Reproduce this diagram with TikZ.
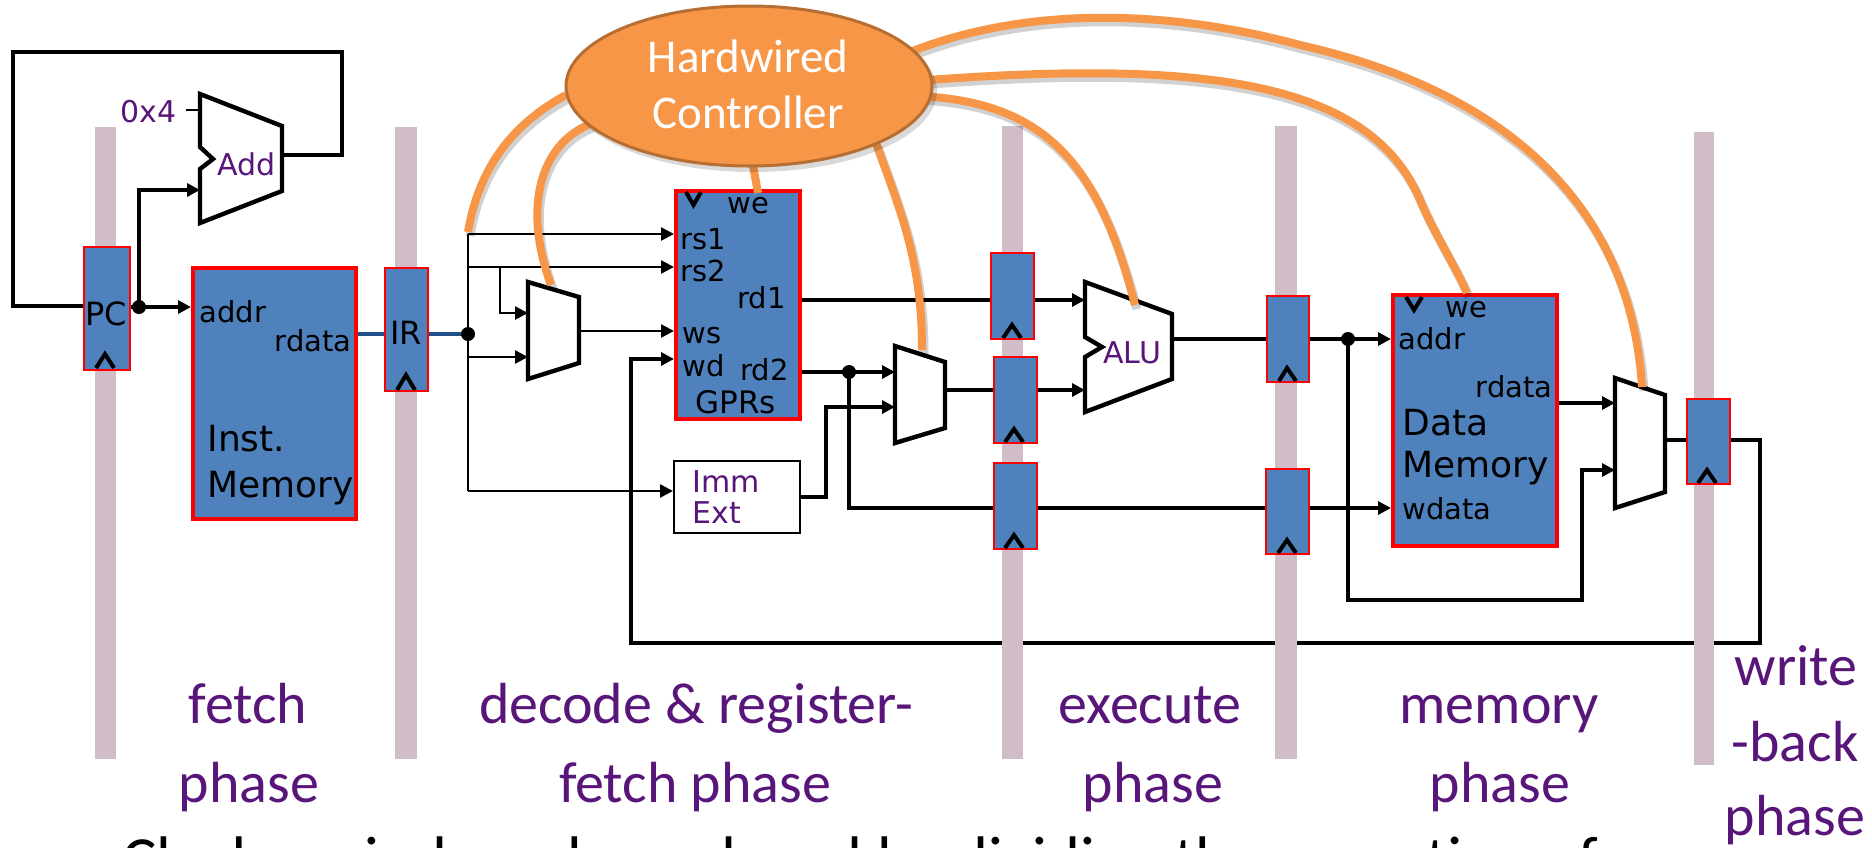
\documentclass[tikz,border=0pt]{standalone}
\usepackage{fontspec}
\setmainfont{DejaVu Sans}
\newfontfamily\calfont{Carlito}
\usetikzlibrary{arrows.meta,shapes.geometric}
\pgfdeclarelayer{back}
\pgfdeclarelayer{wires}
\pgfdeclarelayer{bars}
\pgfsetlayers{back,wires,bars,main}
\definecolor{regblue}{HTML}{4F81BD}
\definecolor{barc}{RGB}{209,189,200}
\definecolor{ctrlor}{HTML}{F79646}
\definecolor{ctrlbd}{RGB}{183,110,50}
\definecolor{purp}{RGB}{88,22,122}
\definecolor{busblue}{RGB}{36,80,138}
\begin{document}
\begin{tikzpicture}[x=0.5pt,y=-0.5pt,
  wthick/.style={line width=2pt, draw=black},
  wthin/.style={line width=1.3pt, draw=black},
  wmid/.style={line width=1.6pt, draw=black},
  busw/.style={line width=2pt, draw=busblue},
  arr/.style={-{Triangle[length=6.5pt,width=6.5pt]}},
  reg/.style={rectangle, draw=red, line width=0.9pt, fill=regblue, inner sep=0pt, anchor=north west},
  mem/.style={rectangle, draw=red, line width=1.8pt, fill=regblue, inner sep=0pt, anchor=north west},
  immbox/.style={rectangle, draw=black, line width=1.2pt, fill=white, inner sep=0pt, anchor=north west},
  muxs/.style={draw=black, line width=2.2pt, fill=white, line join=miter},
  clk/.style={draw=black, line width=2pt, line join=miter},
  dot/.style={circle, fill=black, inner sep=0pt, minimum size=7pt},
  lbl/.style={font=\fontsize{14.5}{17}\selectfont, inner sep=0pt},
  lblb/.style={font=\fontsize{18}{21}\selectfont, inner sep=0pt},
  lblr/.style={font=\fontsize{16}{19}\selectfont, inner sep=0pt},
  pur/.style={text=purp, font=\fontsize{15}{18}\selectfont, inner sep=0pt},
  phase/.style={text=purp, font=\calfont\fontsize{29}{34}\selectfont, inner sep=0pt, anchor=base},
  ctxt/.style={text=white, font=\calfont\fontsize{23.5}{28}\selectfont, inner sep=0pt, anchor=base},
  owire/.style={draw=ctrlor, line width=4pt},
  oshadow/.style={draw=black, opacity=0.18, line width=4.5pt, shift={(2,4)}},
  barf/.style={fill=barc}
]
\useasboundingbox (0,0) rectangle (1872,847);
\begin{pgfonlayer}{back}
\fill[white] (0,0) rectangle (1872,847);
\end{pgfonlayer}
\clip (0,0) rectangle (1872,847);

% ---------- ports ----------
\coordinate (pcL) at (83,306);
\coordinate (pcR) at (129,307);
\coordinate (imA) at (191,307);
\coordinate (addB) at (200,190);
\coordinate (addI1) at (200,110);
\coordinate (c0x4) at (186,110);
\coordinate (addO) at (282,155);
\coordinate (imR) at (354,334);
\coordinate (irL) at (384,334);
\coordinate (irR) at (427,334);
\coordinate (busT) at (468,234);
\coordinate (busRs2) at (468,267);
\coordinate (brA) at (500,267);
\coordinate (busM1b) at (468,357);
\coordinate (busB) at (468,491);
\coordinate (gRs1) at (674,234);
\coordinate (gRs2) at (674,267);
\coordinate (m1A) at (528,313);
\coordinate (m1B) at (528,357);
\coordinate (m1O) at (579,331);
\coordinate (gWs) at (674,331);
\coordinate (gWd) at (674,359);
\coordinate (immL) at (673,491);
\coordinate (immR) at (799,497);
\coordinate (gRd1) at (798,300);
\coordinate (gRd2) at (798,372);
\coordinate (m2A) at (895,372);
\coordinate (m2B) at (895,407);
\coordinate (m2O) at (945,390);
\coordinate (r3aL) at (990,300);
\coordinate (r3aR) at (1033,300);
\coordinate (r3bL) at (993,390);
\coordinate (r3bR) at (1036,390);
\coordinate (r3cL) at (993,508);
\coordinate (r3cR) at (1036,508);
\coordinate (aluA) at (1085,300);
\coordinate (aluB) at (1085,390);
\coordinate (aluO) at (1172,339);
\coordinate (r4aL) at (1266,339);
\coordinate (r4aR) at (1308,339);
\coordinate (r4bL) at (1265,508);
\coordinate (r4bR) at (1308,508);
\coordinate (dAddr) at (1391,339);
\coordinate (dWd) at (1391,508);
\coordinate (dRd) at (1555,403);
\coordinate (m3A) at (1615,403);
\coordinate (m3B) at (1615,470);
\coordinate (m3O) at (1665,440);
\coordinate (r5L) at (1686,440);
\coordinate (r5R) at (1729,440);

% ---------- dots ----------
\node[dot] (dotA) at (139,307) {};
\node[dot] (dotB) at (468,334) {};
\node[dot] (dotC) at (849,372) {};
\node[dot] (dotD) at (1348,339) {};

% ---------- wires ----------
\begin{pgfonlayer}{wires}
\draw[wthick] (addO) -- (342,155) -- (342,52) -- (13,52) -- (13,306) -- (pcL);
\draw[wthick,arr] (pcR) -- (imA);
\draw[wthick,arr] (dotA.center) |- (addB);
\draw[wthin] (c0x4) -- (addI1);
\draw[busw] (imR) -- (irL);
\draw[busw] (irR) -- (dotB.center);
\draw[wthin] (busT) -- (busB);
\draw[wthin,arr] (busT) -- (gRs1);
\draw[wthin,arr] (busRs2) -- (gRs2);
\draw[wthin,arr] (brA) |- (m1A);
\draw[wthin,arr] (busM1b) -- (m1B);
\draw[wthin,arr] (m1O) -- (gWs);
\draw[wthin,arr] (busB) -- (immL);
\draw[wthick,arr] (r5R) -- (1760,440) -- (1760,643) -- (631,643) -- (631,359) -- (gWd);
\draw[wthick] (gRd1) -- (r3aL);
\draw[wthick,arr] (r3aR) -- (aluA);
\draw[wthick,arr] (gRd2) -- (m2A);
\draw[wthick] (dotC.center) |- (r3cL);
\draw[wthick] (r3cR) -- (r4bL);
\draw[wthick,arr] (r4bR) -- (dWd);
\draw[wthick,arr] (immR) -- (826,497) |- (m2B);
\draw[wthick] (m2O) -- (r3bL);
\draw[wthick,arr] (r3bR) -- (aluB);
\draw[wthick] (aluO) -- (r4aL);
\draw[wthick,arr] (r4aR) -- (dAddr);
\draw[wmid,arr] (dotD.center) -- (1348,600) -- (1582,600) -- (1582,470) -- (m3B);
\draw[wthick,arr] (dRd) -- (m3A);
\draw[wthick] (m3O) -- (r5L);
\end{pgfonlayer}

% ---------- pipeline bars ----------
\begin{pgfonlayer}{bars}
\fill[barf] (95,127) rectangle (116,759);
\fill[barf] (395,127) rectangle (417,759);
\fill[barf] (1002,126) rectangle (1023,759);
\fill[barf] (1275,126) rectangle (1297,759);
\fill[barf] (1694,132) rectangle (1714,765);
\end{pgfonlayer}

% ---------- registers ----------
\node[reg, minimum width=23pt, minimum height=61.5pt] (pc) at (83,246) {};
\node[reg, minimum width=21.5pt, minimum height=61.5pt] (ir) at (384,267) {};
\node[reg, minimum width=21.5pt, minimum height=43pt] (r3a) at (990,252) {};
\node[reg, minimum width=21.5pt, minimum height=43pt] (r3b) at (993,356) {};
\node[reg, minimum width=21.5pt, minimum height=43pt] (r3c) at (993,462) {};
\node[reg, minimum width=21pt, minimum height=43pt] (r4a) at (1266,295) {};
\node[reg, minimum width=21.5pt, minimum height=42.5pt] (r4b) at (1265,468) {};
\node[reg, minimum width=21.5pt, minimum height=42.5pt] (r5) at (1686,398) {};
\draw[clk] (96,368) -- (105,354) -- (114,368);
\draw[clk] (397,390) -- (406,375) -- (415,390);
\draw[clk] (1003,338) -- (1012,325) -- (1021,338);
\draw[clk] (1005,442) -- (1014,429) -- (1023,442);
\draw[clk] (1005,548) -- (1014,535) -- (1023,548);
\draw[clk] (1279,381) -- (1287,368) -- (1296,381);
\draw[clk] (1278,553) -- (1287,540) -- (1296,553);
\draw[clk] (1698,483) -- (1707,470) -- (1716,483);
\node[lblr, anchor=base] (pct) at (106,325) {PC};
\node[lblr, anchor=base] (irt) at (406,344) {IR};

% ---------- memories ----------
\node[mem, minimum width=81.5pt, minimum height=125.5pt] (imem) at (191,266) {};
\node[lbl, anchor=base west] (imaddr) at (199,322) {addr};
\node[lbl, anchor=base east] (imrd) at (352,351) {rdata};
\node[lblb, anchor=base west] (im1) at (207,451) {Inst.};
\node[lblb, anchor=base west] (im2) at (207,497) {Memory};

\node[mem, minimum width=62pt, minimum height=114pt] (gpr) at (674,189) {};
\draw[clk] (686,192) -- (693.5,205) -- (701,192);
\node[lbl, anchor=base west] (gwe) at (727,213) {we};
\node[lbl, anchor=base west] (grs1) at (680,249) {rs1};
\node[lbl, anchor=base west] (grs2) at (680,281) {rs2};
\node[lbl, anchor=base east] (grd1) at (786,308) {rd1};
\node[lbl, anchor=base west] (gws) at (682,343) {ws};
\node[lbl, anchor=base west] (gwd) at (682,376) {wd};
\node[lbl, anchor=base east] (grd2) at (789,380) {rd2};
\node[font=\fontsize{15.5}{18}\selectfont, inner sep=0pt, anchor=base west] (gname) at (695,413) {GPRs};

\node[immbox, minimum width=63pt, minimum height=36pt] (imm) at (673,460) {};
\node[pur, anchor=base west] (imm1) at (692,492) {Imm};
\node[pur, anchor=base west] (imm2) at (692,523) {Ext};

\node[mem, minimum width=82pt, minimum height=125.5pt] (dmem) at (1391,293) {};
\draw[clk] (1406,297) -- (1414,310) -- (1422,297);
\node[lbl, anchor=base west] (dwe) at (1445,317) {we};
\node[lbl, anchor=base west] (daddr) at (1398,349) {addr};
\node[lbl, anchor=base east] (drd) at (1553,397) {rdata};
\node[lblb, anchor=base west] (dm1) at (1402,435) {Data};
\node[lblb, anchor=base west] (dm2) at (1402,477) {Memory};
\node[lbl, anchor=base west] (dwd) at (1402,519) {wdata};

% ---------- muxes and adders ----------
\draw[muxs] (528,282) -- (579,297) -- (579,363) -- (528,379) -- cycle;
\draw[muxs] (895,346) -- (945,362) -- (945,428) -- (895,443) -- cycle;
\draw[muxs] (1615,378) -- (1665,395) -- (1665,492) -- (1615,508) -- cycle;
\draw[muxs] (200,94) -- (282,126) -- (282,191) -- (200,223) -- (200,169) -- (213,159) -- (200,147) -- cycle;
\draw[muxs] (1085,282) -- (1172,314) -- (1172,379) -- (1085,412) -- (1085,357) -- (1102,347) -- (1085,337) -- cycle;
\node[pur, anchor=base east] (k4) at (177,122) {0x4};
\node[pur, anchor=base west] (addt) at (217,175) {Add};
\node[pur, anchor=base west] (alut) at (1103,363) {ALU};

% ---------- control wires ----------
\begin{scope}
\draw[oshadow] (566,95) .. controls (520,120) and (480,160) .. (468,232);
\draw[oshadow] (593,123) .. controls (545,140) and (520,200) .. (551,285);
\draw[oshadow] (876,143) .. controls (900,210) and (922,260) .. (922,350);
\draw[oshadow] (914,96) .. controls (1050,100) and (1100,170) .. (1135,305);
\draw[oshadow] (928,80) .. controls (1200,60) and (1370,80) .. (1420,200) .. controls (1435,235) and (1455,265) .. (1467,293);
\draw[oshadow] (910,52) .. controls (1030,5) and (1170,10) .. (1300,45) .. controls (1500,90) and (1630,200) .. (1642,387);
\end{scope}
\draw[owire] (566,95) .. controls (520,120) and (480,160) .. (468,232);
\draw[owire] (593,123) .. controls (545,140) and (520,200) .. (551,285);
\draw[owire] (752,160) -- (758,193);
\draw[owire] (876,143) .. controls (900,210) and (922,260) .. (922,350);
\draw[owire] (914,96) .. controls (1050,100) and (1100,170) .. (1135,305);
\draw[owire] (928,80) .. controls (1200,60) and (1370,80) .. (1420,200) .. controls (1435,235) and (1455,265) .. (1467,293);
\draw[owire] (910,52) .. controls (1030,5) and (1170,10) .. (1300,45) .. controls (1500,90) and (1630,200) .. (1642,387);

% ---------- controller ----------
\fill[black, opacity=0.15] (753,91) ellipse [x radius=184, y radius=81];
\node[ellipse, draw=ctrlbd, line width=1.5pt, fill=ctrlor, minimum width=183pt, minimum height=80pt, inner sep=0pt] (ctrl) at (749,86) {};
\node[ctxt] (hw1) at (748,72) {Hardwired};
\node[ctxt] (hw2) at (748,128) {Controller};

% ---------- phase labels ----------
\node[phase] (f1) at (248,723) {fetch};
\node[phase] (f2) at (249,802) {phase};
\node[phase] (d1) at (696,723) {decode \& register-};
\node[phase] (d2) at (695,802) {fetch phase};
\node[phase] (e1) at (1150,723) {execute};
\node[phase] (e2) at (1153,802) {phase};
\node[phase] (m1) at (1499,723) {memory};
\node[phase] (m2) at (1500,802) {phase};
\node[phase] (w1) at (1796,685) {write};
\node[phase] (w2) at (1795,761) {-back};
\node[phase] (w3) at (1795,835) {phase};

% ---------- cut-off caption ----------
\node[anchor=base west, inner sep=0pt, font=\calfont\fontsize{32.2}{37}\selectfont] (cap) at (122,881) {Clock period can be reduced by dividing the execution of};
\end{tikzpicture}
\end{document}
